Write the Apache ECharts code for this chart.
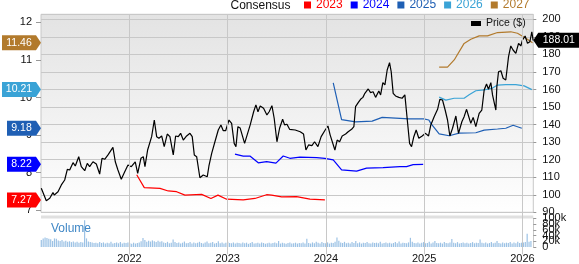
<!DOCTYPE html>
<html><head><meta charset="utf-8">
<script src="https://cdn.jsdelivr.net/npm/echarts@6/dist/echarts.min.js"></script>
<style>html,body{margin:0;padding:0;background:#fff}#c{width:579px;height:264px}</style>
</head><body><div id="c"></div>
<script>
// ---- data (x in decimal years) ----
const years = [2022, 2023, 2024, 2025, 2026];
const priceT = [2021.103,2021.154,2021.189,2021.222,2021.235,2021.273,2021.307,2021.341,2021.368,2021.392,
2021.426,2021.449,2021.484,2021.510,2021.545,2021.571,2021.595,2021.629,2021.663,2021.697,
2021.721,2021.748,2021.782,2021.799,2021.832,2021.856,2021.883,2021.917,2021.945,2021.985,
2022.019,2022.059,2022.084,2022.117,2022.141,2022.158,2022.185,2022.226,2022.253,2022.277,
2022.300,2022.328,2022.354,2022.385,2022.412,2022.446,2022.470,2022.497,2022.521,2022.548,
2022.582,2022.616,2022.639,2022.660,2022.684,2022.717,2022.751,2022.792,2022.809,2022.837,
2022.870,2022.904,2022.931,2022.955,2022.979,2023.013,2023.040,2023.066,2023.084,2023.104,
2023.127,2023.172,2023.229,2023.264,2023.287,2023.308,2023.331,2023.365,2023.399,2023.422,
2023.450,2023.473,2023.501,2023.528,2023.559,2023.579,2023.603,2023.630,2023.687,2023.738,
2023.772,2023.796,2023.823,2023.857,2023.884,2023.918,2023.951,2023.992,2024.020,2024.043,
2024.063,2024.091,2024.114,2024.139,2024.165,2024.200,2024.226,2024.261,2024.284,2024.301,
2024.328,2024.352,2024.376,2024.396,2024.430,2024.454,2024.480,2024.505,2024.538,2024.556,
2024.579,2024.600,2024.623,2024.647,2024.664,2024.684,2024.708,2024.742,2024.775,2024.803,
2024.826,2024.851,2024.871,2024.894,2024.918,2024.945,2024.979,2025.013,2025.044,2025.067,
2025.101,2025.136,2025.159,2025.186,2025.213,2025.237,2025.261,2025.288,2025.322,2025.349,
2025.383,2025.406,2025.431,2025.451,2025.474,2025.498,2025.525,2025.542,2025.559,2025.586,
2025.610,2025.634,2025.654,2025.678,2025.695,2025.729,2025.739,2025.756,2025.780,2025.803,
2025.830,2025.858,2025.881,2025.904,2025.932,2025.960,2025.983,2026.000,2026.027,2026.051,
2026.075,2026.095,2026.108];
const priceV = [103.7,96.6,98,101.2,99.9,101.7,105.6,108.4,114.5,114.1,
118.3,116.4,121.7,116,113.7,117.9,116,118.8,117.5,111.8,
120.8,120.2,122.7,122.2,127,118.8,114.1,108.8,112.2,117,
116,118.8,112.2,120.8,121.7,116,125.5,133.1,142.6,133.1,
132.2,133.5,127.4,134.6,133.1,122.7,133.5,133.1,135,131.2,
133.5,135,133.1,122.7,121.7,109.7,111.3,110.3,116.4,123.6,
130.2,136.9,139.8,136.5,136.5,142.6,140.7,129.3,127.4,138.8,
138,129.3,139.8,147.3,151.2,147.3,150.6,149.3,145.5,147.3,
150.8,143.6,130.2,137.9,143,139.8,140.2,137.3,136.9,135.9,
134.6,125.5,128.4,128,130.2,127.4,133.1,136.9,139.2,134,
133.5,125.5,131.2,130.2,133.5,134.6,135.9,137.3,138.8,150.2,
152.5,154.4,155.5,157.8,160.3,158.2,158.7,155.5,159.1,156.9,
163.9,162.6,171.1,175.3,170.1,157.8,156.3,155.5,155,156.9,
143.6,129.3,127.4,133.1,136.9,132.2,133.5,135,133.5,139.8,
144.5,148.7,154.4,154,148.3,142.6,133.5,137.9,144.9,135,
141.6,144.5,148.7,144.9,140.7,144.1,138.8,139.8,146.4,148.3,
159.7,163.1,160.1,163.9,156.9,148.3,161.6,170.1,170.7,166.4,
165.4,178.7,184.8,182.5,180.6,186.3,184.8,188.2,190.5,186.3,
187.2,192.9,188.01];

const eps2023T = [2022.074,2022.151,2022.311,2022.395,2022.480,2022.565,2022.735,2022.829,2022.901,2022.989,2023.158,2023.277,2023.396,2023.447,2023.549,2023.701,2023.837,2023.989];
const eps2023V = [7.94,7.60,7.58,7.51,7.49,7.40,7.42,7.31,7.40,7.29,7.27,7.31,7.41,7.40,7.35,7.36,7.29,7.27];
const eps2024T = [2023.074,2023.158,2023.226,2023.311,2023.396,2023.491,2023.565,2023.633,2023.735,2023.905,2023.989,2024.074,2024.159,2024.312,2024.413,2024.582,2024.752,2024.820,2024.887,2024.989];
const eps2024V = [8.49,8.44,8.44,8.26,8.29,8.25,8.44,8.38,8.41,8.40,8.38,8.34,8.07,8.04,8.12,8.13,8.16,8.16,8.21,8.22];
const eps2025T = [2024.074,2024.159,2024.301,2024.470,2024.572,2024.708,2024.844,2024.996,2025.047,2025.067,2025.152,2025.254,2025.355,2025.525,2025.610,2025.746,2025.830,2025.905,2025.993];
const eps2025V = [10.39,9.41,9.35,9.37,9.47,9.45,9.43,9.43,9.40,9.31,9.03,8.98,9.05,9.06,9.13,9.16,9.18,9.26,9.18];
const eps2026T = [2025.152,2025.220,2025.305,2025.406,2025.457,2025.525,2025.610,2025.695,2025.746,2025.830,2025.932,2026.017,2026.095];
const eps2026V = [10.01,9.93,9.98,9.98,10.07,10.18,10.20,10.25,10.33,10.34,10.34,10.31,10.21];
const eps2027T = [2025.152,2025.237,2025.305,2025.406,2025.474,2025.559,2025.644,2025.660,2025.746,2025.881,2025.949,2026.034,2026.102];
const eps2027V = [10.81,10.81,11.00,11.44,11.55,11.64,11.64,11.62,11.73,11.75,11.71,11.58,11.46];

// weekly volume in thousands, first week starting at volStart
const volStart = 2021.103;
const volumeK = [24,30,33,31,29,27,21,30,29,23,21,24,19,22,18,20,17,19,16,18,15,17,16,
93,
30,19,17,16,14,15,13,17,14,16,12,15,13,18,12,14,16,13,17,12,15,14,16,13,11,15,12,14,16,
20,31,24,18,22,19,23,20,17,22,18,20,
16,14,18,13,15,26,17,14,16,12,15,19,13,14,17,12,16,13,15,18,14,12,16,19,13,15,17,12,14,20,13,16,12,15,18,14,13,16,12,15,
14,12,16,13,15,11,14,17,12,13,15,12,16,14,11,13,15,12,14,16,13,21,12,15,13,11,14,16,12,13,15,12,14,13,16,12,
29,
14,12,16,13,18,15,12,17,14,13,16,12,15,14,18,
33,
22,16,14,18,13,15,12,17,14,21,13,16,12,15,14,17,13,12,16,14,15,13,18,12,14,16,13,15,12,14,17,13,19,12,15,14,13,16,
32,
18,14,13,16,12,15,17,13,14,18,12,16,21,14,13,15,12,17,14,13,16,
28,
15,13,17,12,14,16,13,15,12,14,17,13,15,14,
26,
15,13,16,12,14,17,13,15,21,14,12,16,13,15,14,17,12,16,13,18,14,15,16,17,
46,18,21];

const priceTicks = {min: 90, max: 200, step: 10};
const epsTicks = {min: 7, max: 12, step: 1};
const volTickGroups = [[0, 60], [20, 80], [40, 100]];

// ---- chart ----
const XMIN = 2021.10, XMAX = 2026.11;
const FONT = "'Liberation Sans', Arial, sans-serif";
const L = 41, R = 579 - 533.3;
const zip = (a, b) => a.map((t, i) => [t, b[i]]);
const WEEK = 7 / 365.25;

const colors = {'2023':'#ff0000','2024':'#0000ff','2025':'#1f5fb4','2026':'#3aa3d6','2027':'#b27a2c'};
const epsSets = [
  ['2023', eps2023T, eps2023V],
  ['2024', eps2024T, eps2024V],
  ['2025', eps2025T, eps2025V],
  ['2026', eps2026T, eps2026V],
  ['2027', eps2027T, eps2027V]
];

function flagLeft(w){ return 'path://M0 0L' + (w-5) + ' 0L' + w + ' 7.5L' + (w-5) + ' 15L0 15Z'; }
function flagRight(w){ return 'path://M0 7.5L5 0L' + w + ' 0L' + w + ' 15L5 15Z'; }

const chart = echarts.init(document.getElementById('c'), null, {renderer:'canvas'});

const xBase = {type:'value', min:XMIN, max:XMAX, show:false, splitLine:{show:false}};
const labelStyle = {color:'#111', fontSize:11, fontFamily:FONT};

const series = [];
// year grid lines across whole frame
series.push({
  type:'line', xAxisIndex:3, yAxisIndex:3, data:[[XMIN,0]], showSymbol:false, lineStyle:{width:0}, silent:true,
  markLine:{silent:true, symbol:['none','none'], label:{show:false},
    lineStyle:{color:'#c8c8c8', width:1, type:'solid'},
    data: years.map(y => ({xAxis:y}))}
});
// volume
series.push({
  name:'Volume', type:'bar', xAxisIndex:2, yAxisIndex:2, barWidth:1.2,
  itemStyle:{color:'#9cc2e5'}, silent:true,
  data: volumeK.map((v,i) => [volStart + i*WEEK, v])
});
// EPS consensus lines
epsSets.forEach(([name, T, V]) => {
  const last = V[V.length-1];
  const txt = last.toFixed(2);
  const w = txt.length >= 5 ? 39 : 34;
  series.push({
    name, type:'line', xAxisIndex:1, yAxisIndex:1, data: zip(T, V),
    showSymbol:false, lineStyle:{color:colors[name], width:1.2}, itemStyle:{color:colors[name]},
    z:3, silent:true,
    markPoint:{
      silent:true, symbol: flagLeft(w), symbolSize:[w,15], symbolOffset:[-w/2,0],
      itemStyle:{color:colors[name]},
      label:{show:true, formatter: txt, color:'#fff', fontSize:10.5, fontFamily:FONT, offset:[-2.5,0]},
      data:[{coord:[XMIN, last], value:last}]
    }
  });
});
// price
const lastP = priceV[priceV.length-1];
series.push({
  name:'Price ($)', type:'line', xAxisIndex:0, yAxisIndex:0, data: zip(priceT, priceV),
  showSymbol:false, lineStyle:{color:'#000', width:1.2}, itemStyle:{color:'#000'}, z:4, silent:true,
  markPoint:{
    silent:true, symbol: flagRight(46), symbolSize:[46,15], symbolOffset:[23,0],
    itemStyle:{color:'#000'},
    label:{show:true, formatter: lastP.toFixed(2), color:'#fff', fontSize:10.5, fontFamily:FONT, offset:[2.5,0]},
    data:[{coord:[XMAX, lastP], value:lastP}]
  }
});

const volAxes = volTickGroups.map((vals, k) => ({
  gridIndex:2, type:'value', position:'right', min:0, max:100,
  axisLine:{show:k === 0, lineStyle:{color:'#c8c8c8'}},
  axisTick:{show:true, length:3, customValues:vals, lineStyle:{color:'#999'}},
  splitLine:{show:false},
  axisLabel:Object.assign({margin:9, customValues:vals, showMinLabel:true, showMaxLabel:true, hideOverlap:false,
    formatter:v => v === 0 ? '0' : v + 'k'}, labelStyle)
}));

const option = {
  animation:false,
  backgroundColor:'#fff',
  textStyle:{fontFamily:FONT},
  graphic:[
    {type:'rect', z:-10, shape:{x:L, y:14.3, width:533.3-L, height:201.5},
     style:{fill:new echarts.graphic.LinearGradient(0,0,0,1,[{offset:0,color:'#e3e3e3'},{offset:1,color:'#ffffff'}])}},
    {type:'rect', z:-9, shape:{x:L, y:215.6, width:533.3-L, height:2.8}, style:{fill:'#e0e0e0'}},
    {type:'text', z:5, style:{text:'Consensus', x:230.5, y:6, fill:'#111', font:'12px ' + FONT, verticalAlign:'middle'}},
    {type:'text', z:5, style:{text:'Volume', x:51, y:229, fill:'#3f87c6', font:'12px ' + FONT, verticalAlign:'middle'}}
  ],
  legend:[
    {left:304, top:-1, padding:0, itemWidth:7, itemHeight:7, itemGap:8, selectedMode:false, icon:'rect',
     textStyle:{fontSize:12, fontFamily:FONT},
     data: Object.keys(colors).map(n => ({name:n, textStyle:{color:colors[n]}}))},
    {left:471, top:18, padding:0, itemWidth:10, itemHeight:5, selectedMode:false, icon:'rect',
     textStyle:{fontSize:10.5, color:'#111', fontFamily:FONT},
     data:[{name:'Price ($)'}]}
  ],
  grid:[
    {left:L, right:R, top:14.3, height:198, show:true, borderColor:'#c8c8c8', borderWidth:1, backgroundColor:'transparent'},
    {left:L, right:R, top:22.4, height:187.7},
    {left:L, right:R, top:218.3, height:36},
    {left:L, right:R, top:14.3, height:240}
  ],
  xAxis:[
    Object.assign({gridIndex:0}, xBase),
    Object.assign({gridIndex:1}, xBase),
    {gridIndex:2, type:'value', min:XMIN, max:XMAX, show:true,
     axisLine:{show:false}, axisTick:{show:false}, splitLine:{show:false},
     axisLabel:Object.assign({customValues:years, margin:6, formatter:v => String(v), hideOverlap:false}, labelStyle)},
    Object.assign({gridIndex:3}, xBase)
  ],
  yAxis:[
    {gridIndex:0, type:'value', position:'right', min:priceTicks.min, max:202.85, interval:priceTicks.step,
     axisLine:{show:false}, axisTick:{show:true, length:3, lineStyle:{color:'#999'}},
     splitLine:{show:true, lineStyle:{color:'#c8c8c8', width:1}},
     axisLabel:Object.assign({margin:9, showMaxLabel:false, showMinLabel:true, hideOverlap:false}, labelStyle)},
    {gridIndex:1, type:'value', position:'left', min:epsTicks.min, max:epsTicks.max, interval:epsTicks.step,
     axisLine:{show:false}, axisTick:{show:true, length:5, lineStyle:{color:'#999'}},
     splitLine:{show:false},
     axisLabel:Object.assign({margin:9, showMinLabel:true, showMaxLabel:true, hideOverlap:false}, labelStyle)},
    volAxes[0],
    {gridIndex:3, type:'value', min:0, max:1, show:false, splitLine:{show:false}},
    volAxes[1],
    volAxes[2]
  ],
  series
};
chart.setOption(option);
</script>
</body></html>
